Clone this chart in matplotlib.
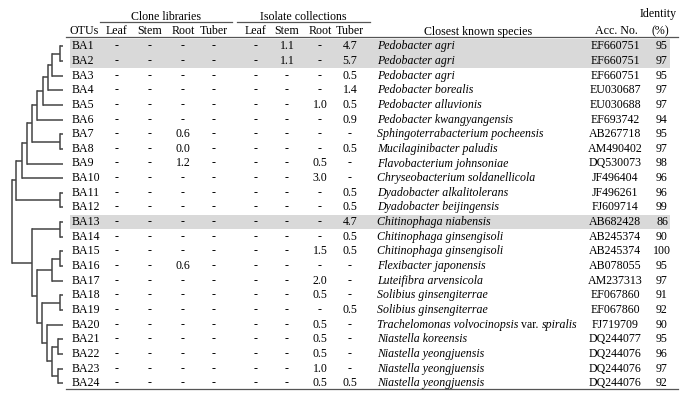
import matplotlib
matplotlib.use('Agg')
import matplotlib.pyplot as plt

plt.rcParams['font.family'] = ['Liberation Serif', 'DejaVu Serif']

otus = [f"BA{i}" for i in range(1, 25)]

clone_leaf = ['-'] * 24
clone_stem = ['-'] * 24
clone_root = ['-', '-', '-', '-', '-', '-', '0.6', '0.0', '1.2', '-', '-', '-',
              '-', '-', '-', '0.6', '-', '-', '-', '-', '-', '-', '-', '-']
clone_tuber = ['-'] * 24
iso_leaf = ['-'] * 24
iso_stem = ['1.1', '1.1'] + ['-'] * 22
iso_root = ['-', '-', '-', '-', '1.0', '-', '-', '-', '0.5', '3.0', '-', '-',
            '-', '-', '1.5', '-', '2.0', '0.5', '-', '0.5', '0.5', '0.5', '1.0', '0.5']
iso_tuber = ['4.7', '5.7', '0.5', '1.4', '0.5', '0.9', '-', '0.5', '-', '-', '0.5', '0.5',
             '4.7', '0.5', '0.5', '-', '-', '-', '0.5', '-', '-', '-', '-', '0.5']

species = [
    'Pedobacter agri', 'Pedobacter agri', 'Pedobacter agri', 'Pedobacter borealis',
    'Pedobacter alluvionis', 'Pedobacter kwangyangensis', 'Sphingoterrabacterium pocheensis',
    'Mucilaginibacter paludis', 'Flavobacterium johnsoniae', 'Chryseobacterium soldanellicola',
    'Dyadobacter alkalitolerans', 'Dyadobacter beijingensis', 'Chitinophaga niabensis',
    'Chitinophaga ginsengisoli', 'Chitinophaga ginsengisoli', 'Flexibacter japonensis',
    'Luteifibra arvensicola', 'Solibius ginsengiterrae', 'Solibius ginsengiterrae',
    'Trachelomonas volvocinopsis var. spiralis', 'Niastella koreensis',
    'Niastella yeongjuensis', 'Niastella yeongjuensis', 'Niastella yeongjuensis',
]
acc_no = ['EF660751', 'EF660751', 'EF660751', 'EU030687', 'EU030688', 'EF693742',
          'AB267718', 'AM490402', 'DQ530073', 'JF496404', 'JF496261', 'FJ609714',
          'AB682428', 'AB245374', 'AB245374', 'AB078055', 'AM237313', 'EF067860',
          'EF067860', 'FJ719709', 'DQ244077', 'DQ244076', 'DQ244076', 'DQ244076']
identity = [95, 97, 95, 97, 97, 94, 95, 97, 98, 96, 96, 99,
            86, 90, 100, 95, 97, 91, 92, 90, 95, 96, 97, 92]

highlight = ['BA1', 'BA2', 'BA13']

# dendrogram merges: (left, right, node x in px); leaves are row indices
n12 = (0, 1, 60)
n123 = (n12, 2, 52)
n1_4 = (n123, 3, 48)
n1_5 = (n1_4, 4, 43)
n1_6 = (n1_5, 5, 37)
n78 = (6, 7, 60)
n1_8 = (n1_6, n78, 32)
n1_9 = (n1_8, 8, 27)
n1_10 = (n1_9, 9, 22)
n1112 = (10, 11, 60)
top = (n1_10, n1112, 16)
n1314 = (12, 13, 60)
n1516 = (14, 15, 60)
n15_17 = (n1516, 16, 52)
n1819 = (17, 18, 60)
n2122 = (20, 21, 58)
n2324 = (22, 23, 58)
n21_24 = (n2122, n2324, 52)
n20_24 = (19, n21_24, 47)
n18_24 = (n1819, n20_24, 42)
n15_24 = (n15_17, n18_24, 37)
bottom = (n1314, n15_24, 32)
tree = (top, bottom, 12)

W, H = 691, 401
fig = plt.figure(figsize=(W / 100, H / 100), dpi=100)
ax = fig.add_axes([0, 0, 1, 1])
ax.set_xlim(0, W)
ax.set_ylim(H, 0)
ax.axis('off')

y0, dy = 46.3, 14.65
rows_y = [y0 + i * dy for i in range(24)]
fs = 8.6
leaf_x = 63
lc = '#444444'


def draw(node):
    if isinstance(node, int):
        return leaf_x, rows_y[node]
    a, b, h = node
    xa, ya = draw(a)
    xb, yb = draw(b)
    ax.plot([h, xa], [ya, ya], color=lc, lw=1.1, solid_capstyle='butt')
    ax.plot([h, xb], [yb, yb], color=lc, lw=1.1, solid_capstyle='butt')
    ax.plot([h, h], [ya, yb], color=lc, lw=1.1, solid_capstyle='projecting')
    return h, (ya + yb) / 2


draw(tree)

# highlighted rows
for name in highlight:
    i = otus.index(name)
    ax.add_patch(plt.Rectangle((70, rows_y[i] - dy / 2), 600, dy, color='#d9d9d9', zorder=0, lw=0))

# header
ax.text(166, 17, 'Clone libraries', ha='center', va='center', fontsize=fs)
ax.text(303, 17, 'Isolate collections', ha='center', va='center', fontsize=fs)
ax.plot([100, 232], [22, 22], color='#555555', lw=0.9)
ax.plot([237, 370], [22, 22], color='#555555', lw=0.9)
ax.text(658, 14, 'Identity', ha='center', va='center', fontsize=fs)

hy = 31.5
col_x = [117, 150, 183, 214, 256, 287, 320, 350]
headers = ['Leaf', 'Stem', 'Root', 'Tuber', 'Leaf', 'Stem', 'Root', 'Tuber']
ax.text(84, hy, 'OTUs', ha='center', va='center', fontsize=fs)
for x, t in zip(col_x, headers):
    ax.text(x, hy, t, ha='center', va='center', fontsize=fs)
ax.text(478, hy, 'Closest known species', ha='center', va='center', fontsize=fs)
ax.text(616, hy, 'Acc. No.', ha='center', va='center', fontsize=fs)
ax.text(660, hy, '(%)', ha='center', va='center', fontsize=fs)
ax.plot([66, 678], [37, 37], color='#555555', lw=0.9)
ax.plot([66, 678], [388.5, 388.5], color='#555555', lw=0.9)

cols = [clone_leaf, clone_stem, clone_root, clone_tuber, iso_leaf, iso_stem, iso_root, iso_tuber]
fig.canvas.draw()
renderer = fig.canvas.get_renderer()
inv = ax.transData.inverted()

for i, y in enumerate(rows_y):
    ax.text(72, y, otus[i], ha='left', va='center', fontsize=fs)
    for x, col in zip(col_x, cols):
        ax.text(x, y, col[i], ha='center', va='center', fontsize=fs)
    sp = species[i]
    if ' var. ' in sp:
        a, b = sp.split(' var. ')
        parts = [(a, 'italic'), ('var.', 'normal'), (b, 'italic')]
    else:
        parts = [(sp, 'italic')]
    x = 377
    for txt, style in parts:
        t = ax.text(x, y, txt, ha='left', va='center', fontsize=fs, style=style)
        bb = t.get_window_extent(renderer)
        x = inv.transform((bb.x1, bb.y0))[0] + 3.0
    ax.text(615, y, acc_no[i], ha='center', va='center', fontsize=fs)
    ax.text(662, y, str(identity[i]), ha='center', va='center', fontsize=fs)

fig.savefig('out.png', dpi=100)
